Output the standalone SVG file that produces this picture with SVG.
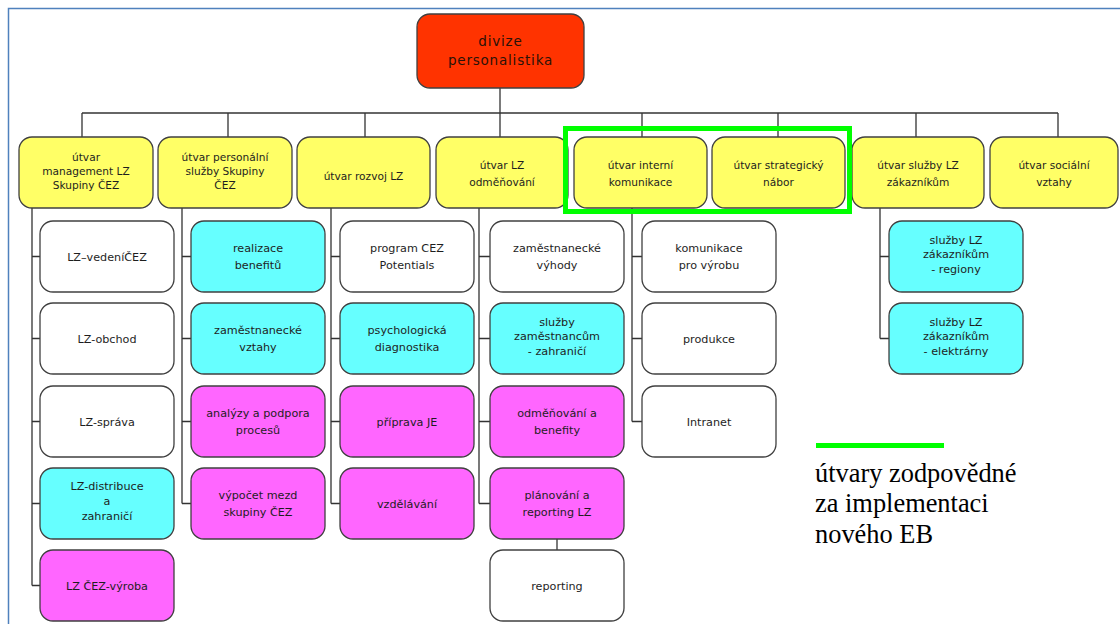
<svg xmlns="http://www.w3.org/2000/svg" width="1120" height="624" viewBox="0 0 1120 624">
<style>
.box{stroke:#404040;stroke-width:1.3}
.rt{fill:#FF3300}
.ye{fill:#FFFF66}
.cy{fill:#66FFFF}
.mg{fill:#FF66FF}
.wh{fill:#FFFFFF}
.t{font-family:"DejaVu Sans",Verdana,sans-serif;fill:#1e1e1e;text-anchor:middle}
.t1{font-size:10.6px}
.t2{font-size:11.2px}
.tr{font-size:13.5px;letter-spacing:0.8px;fill:#2a1208}
.conn{stroke:#333333;stroke-width:1.3;fill:none}
.leg{font-family:"Liberation Serif","Times New Roman",serif;font-size:26.4px;fill:#000000}
</style>
<rect x="0" y="0" width="1120" height="624" fill="#FFFFFF"/>
<g id="frame" stroke="#4F81BD" stroke-width="1.5" fill="none">
<path d="M8.5 624 V8.5 H1120"/>
</g>
<g id="connectors" class="conn">
<path d="M500 88 V113"/>
<path d="M82 113 H1058"/>
<path d="M82 113 V137 M228 113 V137 M365 113 V137 M500 113 V137 M642 113 V137 M778 113 V137 M916 113 V137 M1058 113 V137"/>
<path d="M32 208 V585.5 M32 256.5 H40 M32 338.5 H40 M32 421.5 H40 M32 503.5 H40 M32 585.5 H40"/>
<path d="M182 208 V503.5 M182 256.5 H191 M182 338.5 H191 M182 421.5 H191 M182 503.5 H191"/>
<path d="M331 208 V503.5 M331 256.5 H340 M331 338.5 H340 M331 421.5 H340 M331 503.5 H340"/>
<path d="M479 208 V503.5 M479 256.5 H490 M479 338.5 H490 M479 421.5 H490 M479 503.5 H490"/>
<path d="M557 539 V550"/>
<path d="M632 208 V421.5 M632 256.5 H642 M632 338.5 H642 M632 421.5 H642"/>
<path d="M880 208 V338.5 M880 256.5 H889 M880 338.5 H889"/>
</g>
<g id="root">
<rect class="box rt" x="417" y="14" width="167" height="74" rx="13"/>
<text class="t tr" x="500.5"><tspan x="500.5" y="46">divize</tspan><tspan x="500.5" y="65">personalistika</tspan></text>
</g>
<g id="u-management">
<rect class="box ye" x="19" y="137" width="134" height="71" rx="13"/>
<text class="t t1"><tspan x="86" y="161">útvar</tspan><tspan x="86" y="175">management LZ</tspan><tspan x="86" y="189">Skupiny ČEZ</tspan></text>
</g>
<g id="u-personalni">
<rect class="box ye" x="158" y="137" width="134" height="71" rx="13"/>
<text class="t t1"><tspan x="225" y="161">útvar personální</tspan><tspan x="225" y="175">služby Skupiny</tspan><tspan x="225" y="189">ČEZ</tspan></text>
</g>
<g id="u-rozvoj">
<rect class="box ye" x="297" y="137" width="133" height="71" rx="13"/>
<text class="t t1"><tspan x="363.5" y="180">útvar rozvoj LZ</tspan></text>
</g>
<g id="u-odmenovani">
<rect class="box ye" x="436" y="137" width="132" height="71" rx="13"/>
<text class="t t1"><tspan x="502" y="169">útvar LZ</tspan><tspan x="502" y="186">odměňování</tspan></text>
</g>
<g id="u-komunikace">
<rect class="box ye" x="574" y="137" width="133" height="71" rx="13"/>
<text class="t t1"><tspan x="640.5" y="169">útvar interní</tspan><tspan x="640.5" y="186">komunikace</tspan></text>
</g>
<g id="u-nabor">
<rect class="box ye" x="712" y="137" width="133" height="71" rx="13"/>
<text class="t t1"><tspan x="778.5" y="169">útvar strategický</tspan><tspan x="778.5" y="186">nábor</tspan></text>
</g>
<g id="u-sluzby">
<rect class="box ye" x="852" y="137" width="132" height="71" rx="13"/>
<text class="t t1"><tspan x="918" y="169">útvar služby LZ</tspan><tspan x="918" y="186">zákazníkům</tspan></text>
</g>
<g id="u-socialni">
<rect class="box ye" x="990" y="137" width="128" height="71" rx="13"/>
<text class="t t1"><tspan x="1054" y="169">útvar sociální</tspan><tspan x="1054" y="186">vztahy</tspan></text>
</g>
<g id="highlight">
<rect x="565.5" y="128.5" width="284" height="83" fill="none" stroke="#00FF00" stroke-width="5"/>
</g>
<g id="c1-vedeni"><rect class="box wh" x="40" y="221" width="134" height="71" rx="13"/><text class="t t2"><tspan x="107" y="260.5">LZ–vedeníČEZ</tspan></text></g>
<g id="c1-obchod"><rect class="box wh" x="40" y="303" width="134" height="71" rx="13"/><text class="t t2"><tspan x="107" y="342.5">LZ-obchod</tspan></text></g>
<g id="c1-sprava"><rect class="box wh" x="40" y="386" width="134" height="71" rx="13"/><text class="t t2"><tspan x="107" y="425.5">LZ-správa</tspan></text></g>
<g id="c1-distribuce"><rect class="box cy" x="40" y="468" width="134" height="71" rx="13"/><text class="t t2"><tspan x="107" y="490">LZ-distribuce</tspan><tspan x="107" y="505">a</tspan><tspan x="107" y="520">zahraničí</tspan></text></g>
<g id="c1-vyroba"><rect class="box mg" x="40" y="550" width="134" height="71" rx="13"/><text class="t t2"><tspan x="107" y="589.5">LZ ČEZ-výroba</tspan></text></g>
<g id="c2-realizace"><rect class="box cy" x="191" y="221" width="134" height="71" rx="13"/><text class="t t2"><tspan x="258" y="252">realizace</tspan><tspan x="258" y="269">benefitů</tspan></text></g>
<g id="c2-vztahy"><rect class="box cy" x="191" y="303" width="134" height="71" rx="13"/><text class="t t2"><tspan x="258" y="334">zaměstnanecké</tspan><tspan x="258" y="351">vztahy</tspan></text></g>
<g id="c2-analyzy"><rect class="box mg" x="191" y="386" width="134" height="71" rx="13"/><text class="t t2"><tspan x="258" y="417">analýzy a podpora</tspan><tspan x="258" y="434">procesů</tspan></text></g>
<g id="c2-mzdy"><rect class="box mg" x="191" y="468" width="134" height="71" rx="13"/><text class="t t2"><tspan x="258" y="499">výpočet mezd</tspan><tspan x="258" y="516">skupiny ČEZ</tspan></text></g>
<g id="c3-program"><rect class="box wh" x="340" y="221" width="134" height="71" rx="13"/><text class="t t2"><tspan x="407" y="252">program CEZ</tspan><tspan x="407" y="269">Potentials</tspan></text></g>
<g id="c3-psych"><rect class="box cy" x="340" y="303" width="134" height="71" rx="13"/><text class="t t2"><tspan x="407" y="334">psychologická</tspan><tspan x="407" y="351">diagnostika</tspan></text></g>
<g id="c3-priprava"><rect class="box mg" x="340" y="386" width="134" height="71" rx="13"/><text class="t t2"><tspan x="407" y="425.5">příprava JE</tspan></text></g>
<g id="c3-vzdelavani"><rect class="box mg" x="340" y="468" width="134" height="71" rx="13"/><text class="t t2"><tspan x="407" y="507.5">vzdělávání</tspan></text></g>
<g id="c4-vyhody"><rect class="box wh" x="490" y="221" width="134" height="71" rx="13"/><text class="t t2"><tspan x="557" y="252">zaměstnanecké</tspan><tspan x="557" y="269">výhody</tspan></text></g>
<g id="c4-sluzby"><rect class="box cy" x="490" y="303" width="134" height="71" rx="13"/><text class="t t2"><tspan x="557" y="325.5">služby</tspan><tspan x="557" y="340">zaměstnancům</tspan><tspan x="557" y="355">- zahraničí</tspan></text></g>
<g id="c4-odmenovani"><rect class="box mg" x="490" y="386" width="134" height="71" rx="13"/><text class="t t2"><tspan x="557" y="417">odměňování a</tspan><tspan x="557" y="434">benefity</tspan></text></g>
<g id="c4-planovani"><rect class="box mg" x="490" y="468" width="134" height="71" rx="13"/><text class="t t2"><tspan x="557" y="499">plánování a</tspan><tspan x="557" y="516">reporting LZ</tspan></text></g>
<g id="c4-reporting"><rect class="box wh" x="490" y="550" width="134" height="71" rx="13"/><text class="t t2"><tspan x="557" y="589.5">reporting</tspan></text></g>
<g id="c5-komunikace"><rect class="box wh" x="642" y="221" width="134" height="71" rx="13"/><text class="t t2"><tspan x="709" y="252">komunikace</tspan><tspan x="709" y="269">pro výrobu</tspan></text></g>
<g id="c5-produkce"><rect class="box wh" x="642" y="303" width="134" height="71" rx="13"/><text class="t t2"><tspan x="709" y="342.5">produkce</tspan></text></g>
<g id="c5-intranet"><rect class="box wh" x="642" y="386" width="134" height="71" rx="13"/><text class="t t2"><tspan x="709" y="425.5">Intranet</tspan></text></g>
<g id="c7-regiony"><rect class="box cy" x="889" y="221" width="134" height="71" rx="13"/><text class="t t2"><tspan x="956" y="243.5">služby LZ</tspan><tspan x="956" y="258">zákazníkům</tspan><tspan x="956" y="273">- regiony</tspan></text></g>
<g id="c7-elektrarny"><rect class="box cy" x="889" y="303" width="134" height="71" rx="13"/><text class="t t2"><tspan x="956" y="325.5">služby LZ</tspan><tspan x="956" y="340">zákazníkům</tspan><tspan x="956" y="355">- elektrárny</tspan></text></g>
<g id="legend">
<line x1="816" y1="445.5" x2="944" y2="445.5" stroke="#00FF00" stroke-width="5"/>
<text class="leg"><tspan x="815" y="481.5">útvary zodpovědné</tspan><tspan x="815" y="511.5">za implementaci</tspan><tspan x="815" y="542.5">nového EB</tspan></text>
</g>
</svg>
